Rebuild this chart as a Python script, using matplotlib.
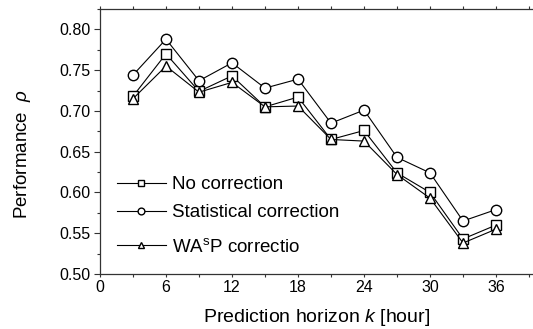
import numpy as np
import matplotlib
matplotlib.use("Agg")
import matplotlib.pyplot as plt
import matplotlib.ticker as mticker

plt.rcParams['font.family'] = ['Liberation Sans', 'DejaVu Sans']
plt.rcParams['mathtext.fontset'] = 'custom'
plt.rcParams['mathtext.rm'] = 'Liberation Sans'
plt.rcParams['mathtext.it'] = 'Liberation Sans:italic'

# data
horizon = [3, 6, 9, 12, 15, 18, 21, 24, 27, 30, 33, 36]
no_corr = [0.718, 0.770, 0.724, 0.743, 0.705, 0.717, 0.665, 0.676, 0.624, 0.600, 0.543, 0.560]
stat_corr = [0.744, 0.788, 0.737, 0.759, 0.728, 0.739, 0.685, 0.701, 0.643, 0.624, 0.565, 0.579]
wasp_corr = [0.715, 0.755, 0.723, 0.735, 0.705, 0.706, 0.665, 0.663, 0.622, 0.593, 0.538, 0.555]

x_ticks = [0, 6, 12, 18, 24, 30, 36]
y_ticks = [0.50, 0.55, 0.60, 0.65, 0.70, 0.75, 0.80]

fig = plt.figure(figsize=(5.33, 3.29), dpi=100)
ax = fig.add_axes([0.1876, 0.1672, 0.8124, 0.8054])

style = dict(color='black', lw=0.8, mfc='white', mec='black', mew=1.0, ms=7.5)
l1, = ax.plot(horizon, no_corr, marker='s', label='No correction', zorder=3, **style)
l2, = ax.plot(horizon, stat_corr, marker='o', label='Statistical correction', zorder=3, **style)
l3, = ax.plot(horizon, wasp_corr, marker='^', label='WA$^{\\mathregular{s}}$P correctio', zorder=3, **style)

ax.set_xlim(0, 39.36)
ax.set_ylim(0.50, 0.825)
ax.set_xticks(x_ticks)
ax.set_yticks(y_ticks)
ax.yaxis.set_major_formatter(mticker.FormatStrFormatter('%.2f'))
ax.xaxis.set_minor_locator(mticker.MultipleLocator(3))
ax.yaxis.set_minor_locator(mticker.MultipleLocator(0.025))

for s in ['left', 'bottom', 'top']:
    ax.spines[s].set_linewidth(0.9)
    ax.spines[s].set_color('#333333')
ax.spines['right'].set_visible(False)

ax.tick_params(which='both', direction='out', labelsize=11.5, width=0.8, color='#333333', pad=2.5)
ax.tick_params(which='major', length=4)
ax.tick_params(which='minor', length=2.5)
ax.tick_params(axis='x', which='both', top=True, length=2)

ax.set_xlabel('Prediction horizon $\\mathit{k}$ [hour]', fontsize=14, labelpad=8.5)
ax.set_ylabel('Performance  $\\mathit{\\rho}$', fontsize=13.5)
ax.yaxis.set_label_coords(-0.154, 0.453)

leg_kw = dict(frameon=False, fontsize=13.5, markerscale=0.65, handlelength=2.6,
              handletextpad=0.35, labelspacing=0.6, borderaxespad=0, borderpad=0,
              loc='center left')
leg1 = ax.legend(handles=[l1, l2], bbox_to_anchor=(0.039, 0.284), **leg_kw)
ax.add_artist(leg1)
leg2 = ax.legend(handles=[l3], bbox_to_anchor=(0.039, 0.102), **leg_kw)

fig.savefig('out.png', dpi=100)
